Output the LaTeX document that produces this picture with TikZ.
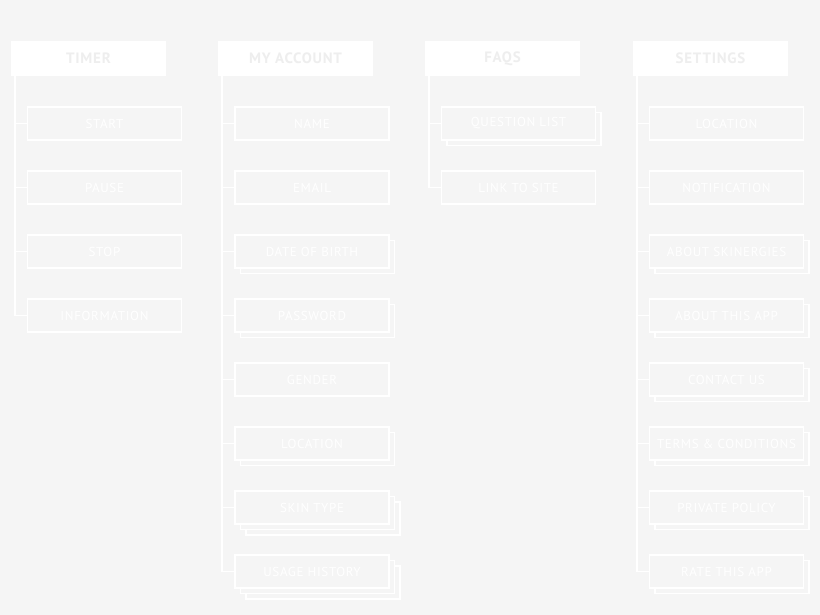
\documentclass[tikz,border=0pt]{standalone}
\usepackage{fontspec}
\setmainfont{PT Sans}
\newfontfamily\lblfont[LetterSpace=5]{PT Sans}
\usetikzlibrary{shadows}
\definecolor{bg}{HTML}{F5F5F5}
\definecolor{hdrtext}{HTML}{EEEEEE}
\tikzset{
  hdrbox/.style={fill=white, draw=none, minimum width=155pt, minimum height=35pt, inner sep=0pt,
    text=hdrtext, font=\lblfont\bfseries\fontsize{15}{18}\selectfont},
  itembox/.style={fill=bg, draw=white, line width=1.8pt, minimum width=154pt, minimum height=33pt, inner sep=0pt,
    text=white, font=\lblfont\fontsize{13}{16}\selectfont},
  shadA/.style={general shadow={shadow xshift=5.5pt, shadow yshift=-5.5pt, fill=bg, draw=white, line width=1.8pt}},
  shadB/.style={general shadow={shadow xshift=11pt, shadow yshift=-11pt, fill=bg, draw=white, line width=1.8pt},
                general shadow={shadow xshift=5.5pt, shadow yshift=-5.5pt, fill=bg, draw=white, line width=1.8pt}},
  link/.style={draw=white, line width=1.8pt},
}
\begin{document}
\begin{tikzpicture}[x=1pt,y=-1pt]
\fill[bg] (0,0) rectangle (820,615);
\useasboundingbox (0,0) rectangle (820,615);

% headers
\node[hdrbox] (h1) at (88.5,58.5) {TIMER};
\node[hdrbox] (h2) at (295.5,58.5) {MY ACCOUNT};
\node[hdrbox] (h3) at (502.5,58.5) {FAQS};
\node[hdrbox] (h4) at (710.5,58.5) {SETTINGS};

% TIMER
\node[itembox] (t1) at (104.5,123.5) {START};
\node[itembox] (t2) at (104.5,187.5) {PAUSE};
\node[itembox] (t3) at (104.5,251.5) {STOP};
\node[itembox] (t4) at (104.5,315.5) {INFORMATION};
\foreach \c in {t1,t2,t3,t4} \draw[link] ([xshift=4.5pt]h1.south west) |- (\c.west);

% MY ACCOUNT
\node[itembox] (a1) at (312,123.5) {NAME};
\node[itembox] (a2) at (312,187.5) {EMAIL};
\node[itembox,shadA] (a3) at (312,251.5) {DATE OF BIRTH};
\node[itembox,shadA] (a4) at (312,315.5) {PASSWORD};
\node[itembox] (a5) at (312,379.5) {GENDER};
\node[itembox,shadA] (a6) at (312,443.5) {LOCATION};
\node[itembox,shadB] (a7) at (312,507.5) {SKIN TYPE};
\node[itembox,shadB] (a8) at (312,571.5) {USAGE HISTORY};
\foreach \c in {a1,a2,a3,a4,a5,a6,a7,a8} \draw[link] ([xshift=4.5pt]h2.south west) |- (\c.west);

% FAQS
\node[itembox,shadA] (f1) at (518.5,123.5) {QUESTION LIST};
\node[itembox] (f2) at (518.5,187.5) {LINK TO SITE};
\foreach \c in {f1,f2} \draw[link] ([xshift=4.5pt]h3.south west) |- (\c.west);

% SETTINGS
\node[itembox] (s1) at (726.5,123.5) {LOCATION};
\node[itembox] (s2) at (726.5,187.5) {NOTIFICATION};
\node[itembox,shadA] (s3) at (726.5,251.5) {ABOUT SKINERGIES};
\node[itembox,shadA] (s4) at (726.5,315.5) {ABOUT THIS APP};
\node[itembox,shadA] (s5) at (726.5,379.5) {CONTACT US};
\node[itembox,shadA] (s6) at (726.5,443.5) {TERMS \& CONDITIONS};
\node[itembox,shadA] (s7) at (726.5,507.5) {PRIVATE POLICY};
\node[itembox,shadA] (s8) at (726.5,571.5) {RATE THIS APP};
\foreach \c in {s1,s2,s3,s4,s5,s6,s7,s8} \draw[link] ([xshift=4.5pt]h4.south west) |- (\c.west);
\end{tikzpicture}
\end{document}
